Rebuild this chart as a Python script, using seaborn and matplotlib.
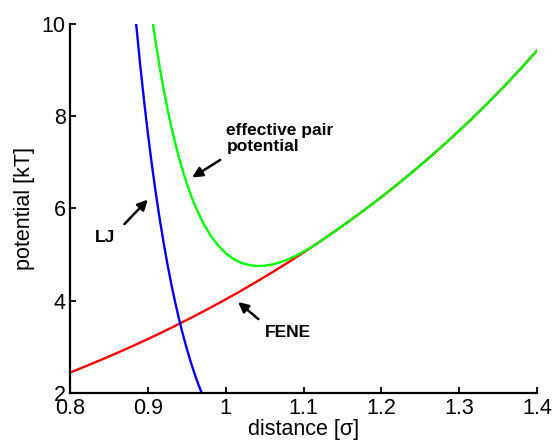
import numpy as np
import pandas as pd
import matplotlib
matplotlib.use("Agg")
import matplotlib.pyplot as plt
import seaborn as sns

# FENE bond potential (red)
fene_r = [0.80, 0.82, 0.84, 0.86, 0.88, 0.90, 0.92, 0.94, 0.96, 0.98, 1.00,
          1.02, 1.04, 1.06, 1.08, 1.10, 1.12, 1.14, 1.16, 1.18, 1.20, 1.22,
          1.24, 1.26, 1.28, 1.30, 1.32, 1.34, 1.36, 1.38, 1.40]
fene_u = [2.441, 2.577, 2.717, 2.862, 3.012, 3.168, 3.328, 3.495, 3.666, 3.844, 4.028,
          4.217, 4.414, 4.617, 4.826, 5.044, 5.268, 5.501, 5.741, 5.990, 6.248, 6.515,
          6.792, 7.079, 7.377, 7.687, 8.008, 8.342, 8.689, 9.050, 9.427]

# LJ repulsion (blue)
lj_r = [0.880, 0.885, 0.890, 0.895, 0.900, 0.905, 0.910, 0.915, 0.920, 0.925,
        0.930, 0.935, 0.940, 0.945, 0.950, 0.955, 0.960, 0.965, 0.970, 0.975]
lj_u = [10.934, 10.002, 9.146, 8.359, 7.636, 6.971, 6.360, 5.799, 5.283, 4.809,
        4.373, 3.974, 3.607, 3.270, 2.961, 2.678, 2.418, 2.181, 1.963, 1.763]

# effective pair potential (green)
eff_r = [0.900, 0.905, 0.910, 0.915, 0.920, 0.925, 0.930, 0.935, 0.940, 0.945,
         0.950, 0.955, 0.960, 0.970, 0.980, 0.990, 1.000, 1.010, 1.020, 1.030,
         1.040, 1.050, 1.060, 1.070, 1.080, 1.090, 1.100, 1.110, 1.120, 1.140,
         1.160, 1.180, 1.200, 1.220, 1.240, 1.260, 1.280, 1.300, 1.320, 1.340,
         1.360, 1.380, 1.400]
eff_u = [10.804, 10.18, 9.607, 9.086, 8.611, 8.178, 7.784, 7.427, 7.102, 6.807,
         6.541, 6.301, 6.084, 5.717, 5.426, 5.199, 5.028, 4.904, 4.819, 4.771,
         4.751, 4.757, 4.785, 4.832, 4.894, 4.971, 5.061, 5.160, 5.268, 5.501,
         5.741, 5.990, 6.248, 6.515, 6.792, 7.079, 7.377, 7.687, 8.008, 8.342,
         8.689, 9.050, 9.427]

xticks = [0.8, 0.9, 1.0, 1.1, 1.2, 1.3, 1.4]
xticklabels = ["0.8", "0.9", "1", "1.1", "1.2", "1.3", "1.4"]
yticks = [2, 4, 6, 8, 10]

sns.set_style("ticks")
plt.rcParams['font.family'] = ['Liberation Sans', 'DejaVu Sans']
plt.rcParams['text.color'] = 'black'
plt.rcParams['axes.labelcolor'] = 'black'

fig = plt.figure(figsize=(5.55, 4.41), dpi=100)
ax = fig.add_axes([0.126, 0.109, 0.842, 0.837])

sns.lineplot(x=fene_r, y=fene_u, color=(1, 0, 0), lw=1.7, sort=False, estimator=None, ax=ax)
sns.lineplot(x=eff_r, y=eff_u, color=(0, 1, 0), lw=1.7, sort=False, estimator=None, ax=ax)
sns.lineplot(x=lj_r, y=lj_u, color=(0, 0, 1), lw=1.7, sort=False, estimator=None, ax=ax)

ax.set_xlim(0.8, 1.4)
ax.set_ylim(2, 10)
ax.set_xticks(xticks)
ax.set_xticklabels(xticklabels)
ax.set_yticks(yticks)
ax.tick_params(direction="in", length=4, width=1.3, labelsize=15.5, colors="black")
ax.tick_params(axis="x", pad=4)
ax.tick_params(axis="y", pad=3)
sns.despine(ax=ax)
for s in ["left", "bottom"]:
    ax.spines[s].set_linewidth(1.6)
    ax.spines[s].set_color("black")

ax.set_xlabel("distance [σ]", fontsize=15.5, labelpad=0)
ax.set_ylabel("potential [kT]", fontsize=15.5, labelpad=5)

# annotations
arrow = dict(arrowstyle="-|>,head_length=0.6,head_width=0.3", color="black", lw=1.8,
             shrinkA=0, shrinkB=0)
ax.annotate("", xy=(0.957, 6.67), xytext=(0.993, 7.05), arrowprops=arrow)
ax.text(1.001, 7.51, "effective pair\npotential", fontsize=12.5, fontweight="bold",
        va="center", ha="left", linespacing=1.05)
ax.annotate("", xy=(0.900, 6.19), xytext=(0.870, 5.66), arrowprops=arrow)
ax.text(0.832, 5.37, "LJ", fontsize=12.5, fontweight="bold", va="center", ha="left")
ax.annotate("", xy=(1.016, 3.97), xytext=(1.042, 3.60), arrowprops=arrow)
ax.text(1.0505, 3.31, "FENE", fontsize=12.5, fontweight="bold", va="center", ha="left")

fig.savefig("out.png", dpi=100)
